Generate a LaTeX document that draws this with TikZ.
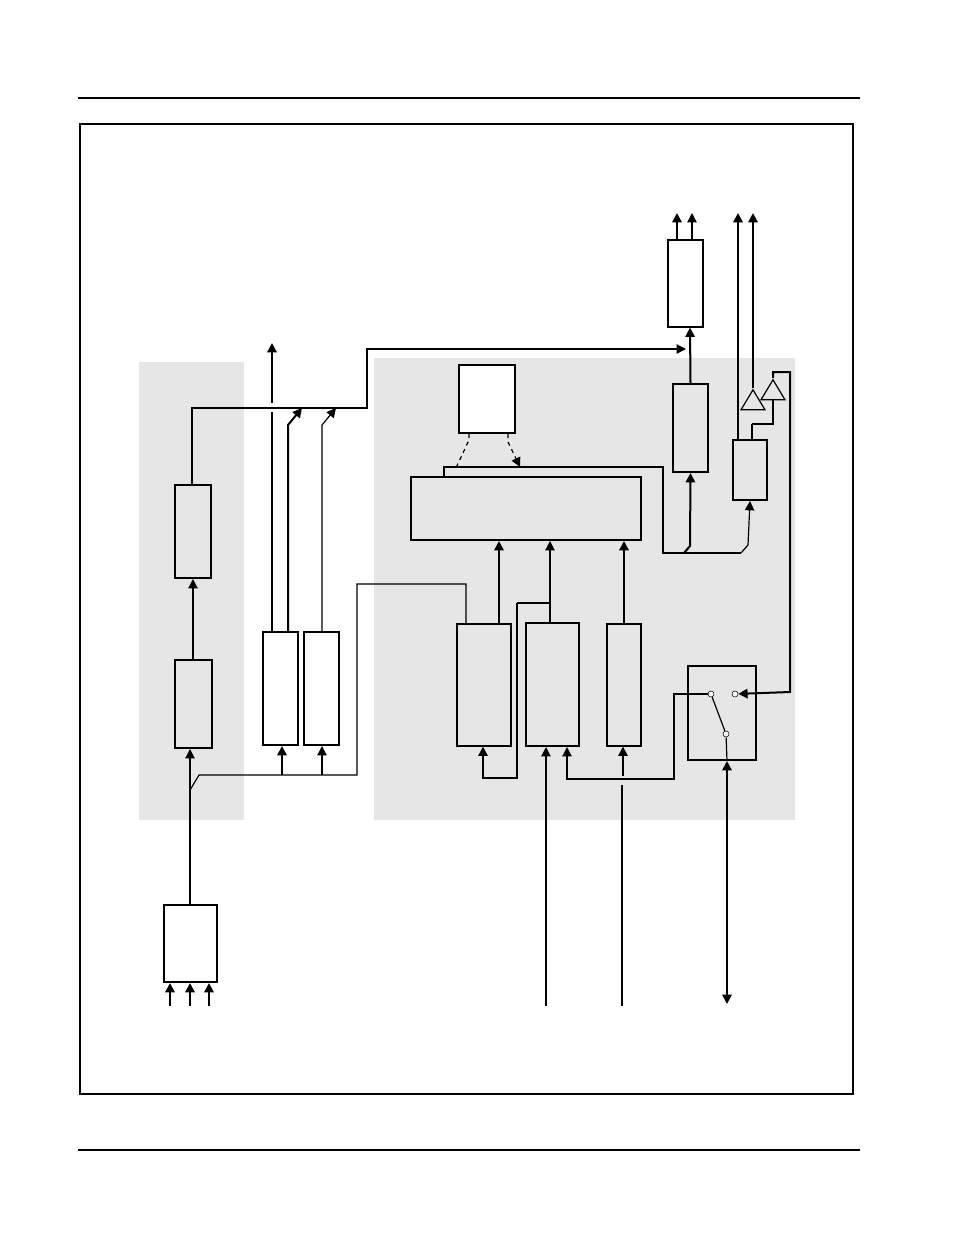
\documentclass[tikz,border=0pt]{standalone}
\usetikzlibrary{arrows.meta,fit,shapes.geometric}
\definecolor{panelgray}{HTML}{E6E6E6}
\begin{document}
\begin{tikzpicture}[x=0.75pt,y=-0.75pt,
        blk/.style={rectangle, draw, line width=0.9pt, inner sep=0pt, fill=white},
        gblk/.style={rectangle, draw, line width=0.9pt, inner sep=0pt, fill=panelgray},
        thk/.style={line width=1.5pt},
        arrow/.style={-{Triangle[length=7pt,width=7pt]}},
        sig/.style={line width=0.9pt},
        amp/.style={draw, line width=0.9pt, fill=panelgray, isosceles triangle, shape border rotate=90, isosceles triangle stretches, minimum width=18pt, minimum height=15pt, inner sep=0pt},
        contact/.style={circle, draw, fill=white, inner sep=0pt, minimum size=4.5pt}
    ]
        \useasboundingbox (0,0) rectangle (954,1235);

        % Page rules and frame
        \draw[sig] (78,98) -- (860,98);
        \draw[sig] (78,1150) -- (860,1150);
        \draw[sig] (80,124) rectangle (853,1094);

        % Panels
        \fill[panelgray] (139,362) rectangle (244,820);
        \fill[panelgray] (374,358) rectangle (795,820);

        % Left column
        \node[gblk, thk, fit={(175,485) (211,578)}] (upper) {};
        \node[gblk, thk, fit={(175,660) (212,748)}] (lower) {};
        \node[blk, thk, fit={(164,905) (217,982)}] (inbox) {};
        \node[blk, thk, fit={(263,632) (298,745)}] (outa) {};
        \node[blk, thk, fit={(304,632) (339,745)}] (outb) {};

        % Right panel
        \node[blk, thk, fit={(459,365) (515,433)}] (ctrl) {};
        \node[gblk, thk, fit={(411,477) (641,540)}] (core) {};
        \node[gblk, fit={(457,624) (511,746)}] (srca) {};
        \node[gblk, thk, fit={(526,623) (579,746)}] (srcb) {};
        \node[gblk, fit={(607,624) (641,746)}] (srcc) {};
        \node[gblk, thk, fit={(673,384) (708,472)}] (enc) {};
        \node[blk, fit={(668,240) (703,327)}] (outc) {};
        \node[gblk, thk, fit={(733,440) (767,500)}] (drv) {};
        \node[gblk, thk, fit={(688,666) (756,760)}] (sw) {};
        \node[amp] (ampa) at (753,403) {};
        \node[amp] (ampb) at (773,393) {};
        \node[contact] (ca) at (711,694) {};
        \node[contact] (cb) at (735,694) {};
        \node[contact] (cc) at (726,734) {};

        % Left connectors
        \draw[sig, arrow] (inbox.north -| 190,0) -- (lower.south -| 190,0);
        \draw[sig, arrow] (lower.north -| 193,0) -- (upper.south -| 193,0);
        \draw[sig] (190,790) -- (199,775) -- (357,775) -- (357,584) -- (466,584) -- (srca.north -| 466,0);
        \draw[thk, arrow] (282,775) -- (outa.south -| 282,0);
        \draw[sig, arrow] (322,775) -- (outb.south -| 322,0);
        \draw[sig, arrow] (upper.north -| 192,0) -- (192,408) -- (367,408) -- (367,349) -- (686,349);
        \draw[thk] (outa.north -| 272,0) -- (272,412);
        \draw[thk, arrow] (272,403) -- (272,343);
        \draw[thk, arrow] (outa.north -| 288,0) -- (288,425) -- (302,408);
        \draw[sig, arrow] (outb.north -| 322,0) -- (322,425) -- (336,408);
        \foreach \x in {170,190,209}
            \draw[thk, arrow] (\x,1006) -- (inbox.south -| \x,0);

        % Core connectors
        \draw[sig, dashed] (ctrl.south -| 469,0) -- (469,440) -- (455,470);
        \draw[sig, dashed, arrow] (ctrl.south -| 508,0) -- (508,442) -- (520,467);
        \draw[sig] (core.north -| 444,0) -- (444,467) -- (663,467) -- (663,553) -- (741,553);
        \draw[thk, arrow] (srca.north -| 499,0) -- (core.south -| 499,0);
        \draw[thk, arrow] (srcc.north -| 624,0) -- (core.south -| 624,0);
        \draw[sig, arrow] (srcb.north -| 550,0) -- (core.south -| 550,0);
        \draw[thk, arrow] (517,603) -- (550,603) (517,603) -- (517,778) -- (483,778) -- (srca.south -| 483,0);
        \draw[thk, arrow] (623,776) -- (srcc.south -| 623,0);
        \draw[sig] (622,785) -- (622,1006);
        \draw[sig, arrow] (546,1006) -- (srcb.south -| 546,0);
        \draw[sig, arrow] (ca) -- (674,694) -- (674,779) -- (567,779) -- (srcb.south -| 567,0);

        % Encoder and outputs
        \draw[thk, arrow] (684,553) -- (690,546) -- (enc.south);
        \draw[thk, arrow] (enc.north) -- (outc.south -| 690,0);
        \draw[thk, arrow] (outc.north -| 677,0) -- (677,213);
        \draw[sig, arrow] (outc.north -| 692,0) -- (692,213);
        \draw[sig, arrow] (741,553) -- (748,545) -- (drv.south);
        \draw[thk, arrow] (drv.north -| 738,0) -- (738,213);
        \draw[thk, arrow] (ampa.apex) -- (753,213);
        \draw[sig] (drv.north -| 752,0) -- (752,424);
        \draw[thk] (752,424) -- (773,424) -- (ampb.south);
        \draw[thk, arrow] (ampb.apex) -- (773,372) -- (790,372) -- (790,692) -- (cb);

        % Switch
        \draw[sig] (ca) -- (cc);
        \draw[thk, {Triangle[length=7pt,width=7pt]}-{Triangle[length=7pt,width=7pt]}] (727,1004) -- (sw.south -| 727,0);
        \draw[sig] (sw.south -| 727,0) -- (cc);
    \end{tikzpicture}
\end{document}
